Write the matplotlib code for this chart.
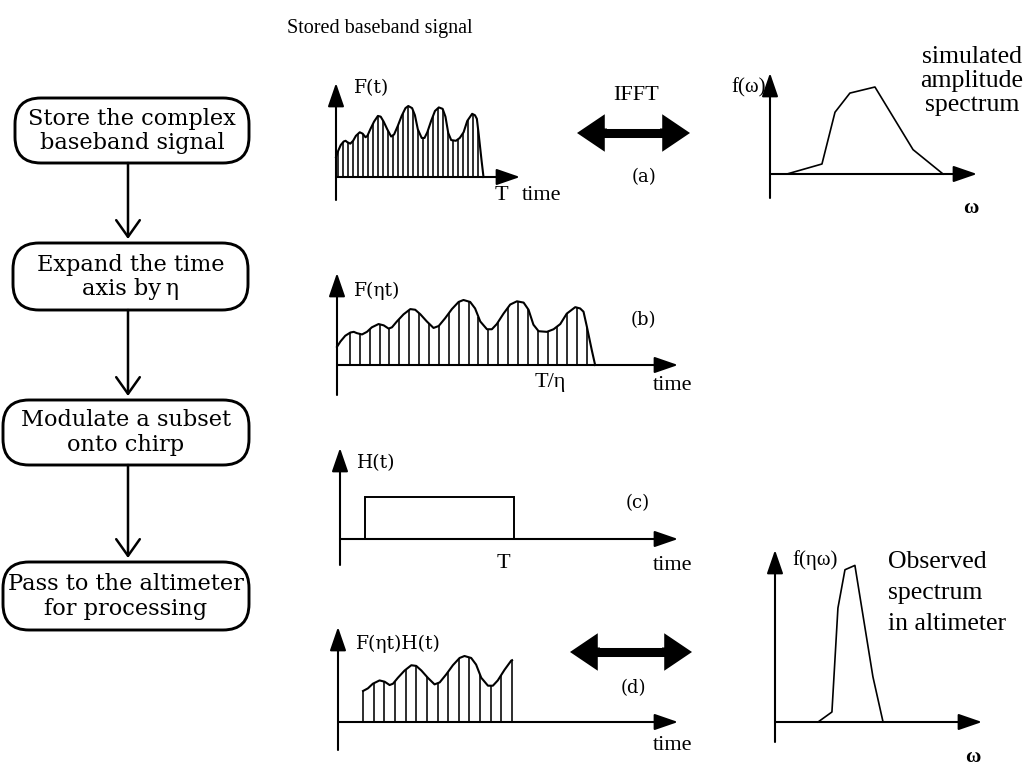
import numpy as np
import matplotlib.pyplot as plt
from matplotlib.patches import FancyBboxPatch, FancyArrowPatch, Rectangle

# stored baseband signal F(t): t as a fraction of T, amplitude relative to the highest peak
signal_t = [0.000, 0.013, 0.032, 0.052, 0.065, 0.077, 0.097, 0.116, 0.135, 0.161,
            0.181, 0.200, 0.213, 0.232, 0.258, 0.284, 0.303, 0.323, 0.348, 0.374,
            0.394, 0.419, 0.445, 0.471, 0.490, 0.516, 0.535, 0.555, 0.581, 0.600,
            0.619, 0.645, 0.671, 0.697, 0.723, 0.742, 0.761, 0.781, 0.813, 0.839,
            0.865, 0.890, 0.923, 0.942, 0.955, 0.968, 0.987, 1.000]
signal_amp = [0.28, 0.36, 0.45, 0.50, 0.51, 0.49, 0.47, 0.51, 0.58, 0.63,
              0.61, 0.56, 0.58, 0.67, 0.78, 0.86, 0.85, 0.78, 0.67, 0.57,
              0.60, 0.72, 0.86, 0.97, 1.00, 0.97, 0.87, 0.67, 0.55, 0.55,
              0.63, 0.79, 0.93, 0.98, 0.96, 0.85, 0.62, 0.52, 0.51, 0.55,
              0.63, 0.79, 0.89, 0.87, 0.82, 0.59, 0.23, 0.00]
eta = 1.75
window = [0.17, 1.18]          # H(t) switched on / off (units of T)
n_samples_a = 29               # vertical sample lines in each sketch
n_samples_b = 25
n_samples_d = 15

# simulated amplitude spectrum f(w) and observed spectrum f(eta*w)
sim_omega = [0.82, 2.51, 3.14, 3.86, 5.07, 6.91, 8.36]
sim_amp = [0.0, 0.115, 0.71, 0.93, 1.0, 0.28, 0.0]
obs_omega = [2.08, 2.75, 3.04, 3.38, 3.86, 4.73, 5.22]
obs_amp = [0.0, 0.115, 1.31, 1.75, 1.80, 0.52, 0.0]

steps = [["Store the complex", "baseband signal"],
         ["Expand the time", "axis by\u2009η"],
         ["Modulate a subset", "onto chirp"],
         ["Pass to the altimeter", "for processing"]]

W, H = 1031, 772
serif = ['Liberation Serif', 'DejaVu Serif']
century = ['DejaVu Serif']

fig = plt.figure(figsize=(W / 100, H / 100), dpi=100)
lay = fig.add_axes([0, 0, 1, 1])
lay.set_xlim(0, W)
lay.set_ylim(H, 0)
lay.axis('off')

axis_arrow = dict(arrowstyle='-|>,head_length=1.45,head_width=0.5', mutation_scale=10,
                  lw=1.5, color='black', shrinkA=0, shrinkB=0)


def panel(ox, oy, x_tip, y_tip, y_bot, sx, sy):
    # small sketch axes: origin (ox, oy) in pixels, sx/sy pixels per data unit
    ax = fig.add_axes([ox / W, 1 - y_bot / H, (x_tip - ox) / W, (y_bot - y_tip) / H])
    ax.set_xlim(0, (x_tip - ox) / sx)
    ax.set_ylim(-(y_bot - oy) / sy, (oy - y_tip) / sy)
    ax.axis('off')
    x1 = ax.get_xlim()[1]
    y0, y1 = ax.get_ylim()
    ax.annotate('', xy=(x1, 0), xytext=(0, 0), arrowprops=axis_arrow, annotation_clip=False)
    ax.annotate('', xy=(0, y1), xytext=(0, y0), arrowprops=axis_arrow, annotation_clip=False)
    return ax


def draw_signal(ax, x, amp, samples):
    ax.plot(x, amp, color='black', lw=1.5, clip_on=False)
    ax.vlines(samples, 0, np.interp(samples, x, amp), color='black', lw=1.15, clip_on=False)


t = np.array(signal_t)
amp = np.array(signal_amp)

# (a) stored signal
ax_a = panel(336, 177, 520, 83, 200, 147.5, 71)
draw_signal(ax_a, t, amp, np.linspace(0.014, 0.963, n_samples_a))

# (b) time axis expanded by eta
ax_b = panel(337, 365, 678, 273, 395, 147.5, 65)
draw_signal(ax_b, t * eta, amp, np.linspace(0.05, 0.969, n_samples_b) * eta)

# (c) window H(t)
ax_c = panel(340, 539, 678, 448, 565, 147.5, 42)
ax_c.add_patch(Rectangle((window[0], 0), window[1] - window[0], 1, fill=False, lw=1.4, ec='black'))

# (d) windowed signal
ax_d = panel(338, 722, 678, 627, 750, 147.5, 66)
xs = t * eta
inside = (xs > window[0]) & (xs < window[1])
xd = np.concatenate([[window[0]], xs[inside], [window[1]]])
ad = np.interp(xd, xs, amp)
ax_d.plot(xd, ad, color='black', lw=1.5, clip_on=False)
samp_d = np.linspace(window[0], window[1], n_samples_d)
ax_d.vlines(samp_d, 0, np.interp(samp_d, xs, amp), color='black', lw=1.15, clip_on=False)

# spectra
ax_s = panel(770, 174, 977, 73, 198, 20.7, 87)
ax_s.plot(sim_omega, sim_amp, color='black', lw=1.2, clip_on=False)
ax_o = panel(775, 722, 982, 550, 742, 20.7, 87)
ax_o.plot(obs_omega, obs_amp, color='black', lw=1.2, clip_on=False)

# flowchart
boxes = [(15, 98, 249, 163), (13, 243, 248, 310), (3, 400, 249, 465), (3, 562, 249, 630)]
for (x0, y0, x1, y1), lines in zip(boxes, steps):
    lay.add_patch(FancyBboxPatch((x0, y0), x1 - x0, y1 - y0,
                                 boxstyle='round,pad=0,rounding_size=26',
                                 fc='white', ec='black', lw=2.1))
    yc = (y0 + y1) / 2
    lay.text((x0 + x1) / 2, yc - 12, lines[0], ha='center', va='center', fontsize=16.2, family=century)
    lay.text((x0 + x1) / 2, yc + 13, lines[1], ha='center', va='center', fontsize=16.2, family=century)
for (_, _, _, y_end), (_, y_next, _, _) in zip(boxes[:-1], boxes[1:]):
    lay.annotate('', xy=(128, y_next - 4), xytext=(128, y_end),
                 arrowprops=dict(arrowstyle='->,head_length=1.2,head_width=0.85', mutation_scale=10,
                                 lw=1.8, color='black', shrinkA=0, shrinkB=0))

# thick double arrows: one shaft, two heads
for xl, xr, y in [(577, 690, 133), (570, 692, 652)]:
    lay.plot([xl + 15, xr - 15], [y, y], color='black', lw=6.5, solid_capstyle='butt')
    for xs_, xe in ((xl + 30, xl), (xr - 30, xr)):
        lay.add_patch(FancyArrowPatch((xs_, y), (xe, y),
                                      arrowstyle='simple,head_length=20,head_width=27,tail_width=6.5',
                                      mutation_scale=1, color='black', lw=0, shrinkA=0, shrinkB=0))

# labels
lay.text(287, 28, 'Stored baseband signal', ha='left', va='center', fontsize=14.5, family=serif)
lay.text(372, 88, 'F(t)', ha='center', va='center', fontsize=13.5, family=century)
lay.text(501, 195, 'T', ha='center', va='center', fontsize=16, family=serif)
lay.text(542, 196, 'time', ha='center', va='center', fontsize=16, family=serif)
lay.text(636, 96, 'IFFT', ha='center', va='center', fontsize=16, family=serif)
lay.text(644, 177, '(a)', ha='center', va='center', fontsize=13, family=century)
lay.text(766, 88, 'f(ω)', ha='right', va='center', fontsize=15, family=serif)
for s, yb in zip(['simulated', 'amplitude', 'spectrum'], [63, 87, 111]):
    lay.text(972, yb, s, ha='center', va='baseline', fontsize=18.5, family=serif)
lay.text(971, 208, 'ω', ha='center', va='center', fontsize=15, family=serif, weight='bold')

lay.text(377, 291, 'F(ηt)', ha='center', va='center', fontsize=13.5, family=century)
lay.text(643, 320, '(b)', ha='center', va='center', fontsize=13, family=century)
lay.text(550, 382, 'T/η', ha='center', va='center', fontsize=16, family=serif)
lay.text(673, 385, 'time', ha='center', va='center', fontsize=16, family=serif)

lay.text(376, 463, 'H(t)', ha='center', va='center', fontsize=13.5, family=century)
lay.text(503, 563, 'T', ha='center', va='center', fontsize=16, family=serif)
lay.text(638, 503, '(c)', ha='center', va='center', fontsize=13, family=century)
lay.text(673, 566, 'time', ha='center', va='center', fontsize=16, family=serif)

lay.text(398, 644, 'F(ηt)H(t)', ha='center', va='center', fontsize=13.5, family=century)
lay.text(633, 688, '(d)', ha='center', va='center', fontsize=13, family=century)
lay.text(673, 746, 'time', ha='center', va='center', fontsize=16, family=serif)
lay.text(815, 560, 'f(ηω)', ha='center', va='center', fontsize=15, family=serif)
for s, yb in zip(['Observed', 'spectrum', 'in altimeter'], [568, 599, 630]):
    lay.text(888, yb, s, ha='left', va='baseline', fontsize=18.5, family=serif)
lay.text(973, 757, 'ω', ha='center', va='center', fontsize=15, family=serif, weight='bold')

fig.savefig('out.png', dpi=100)
